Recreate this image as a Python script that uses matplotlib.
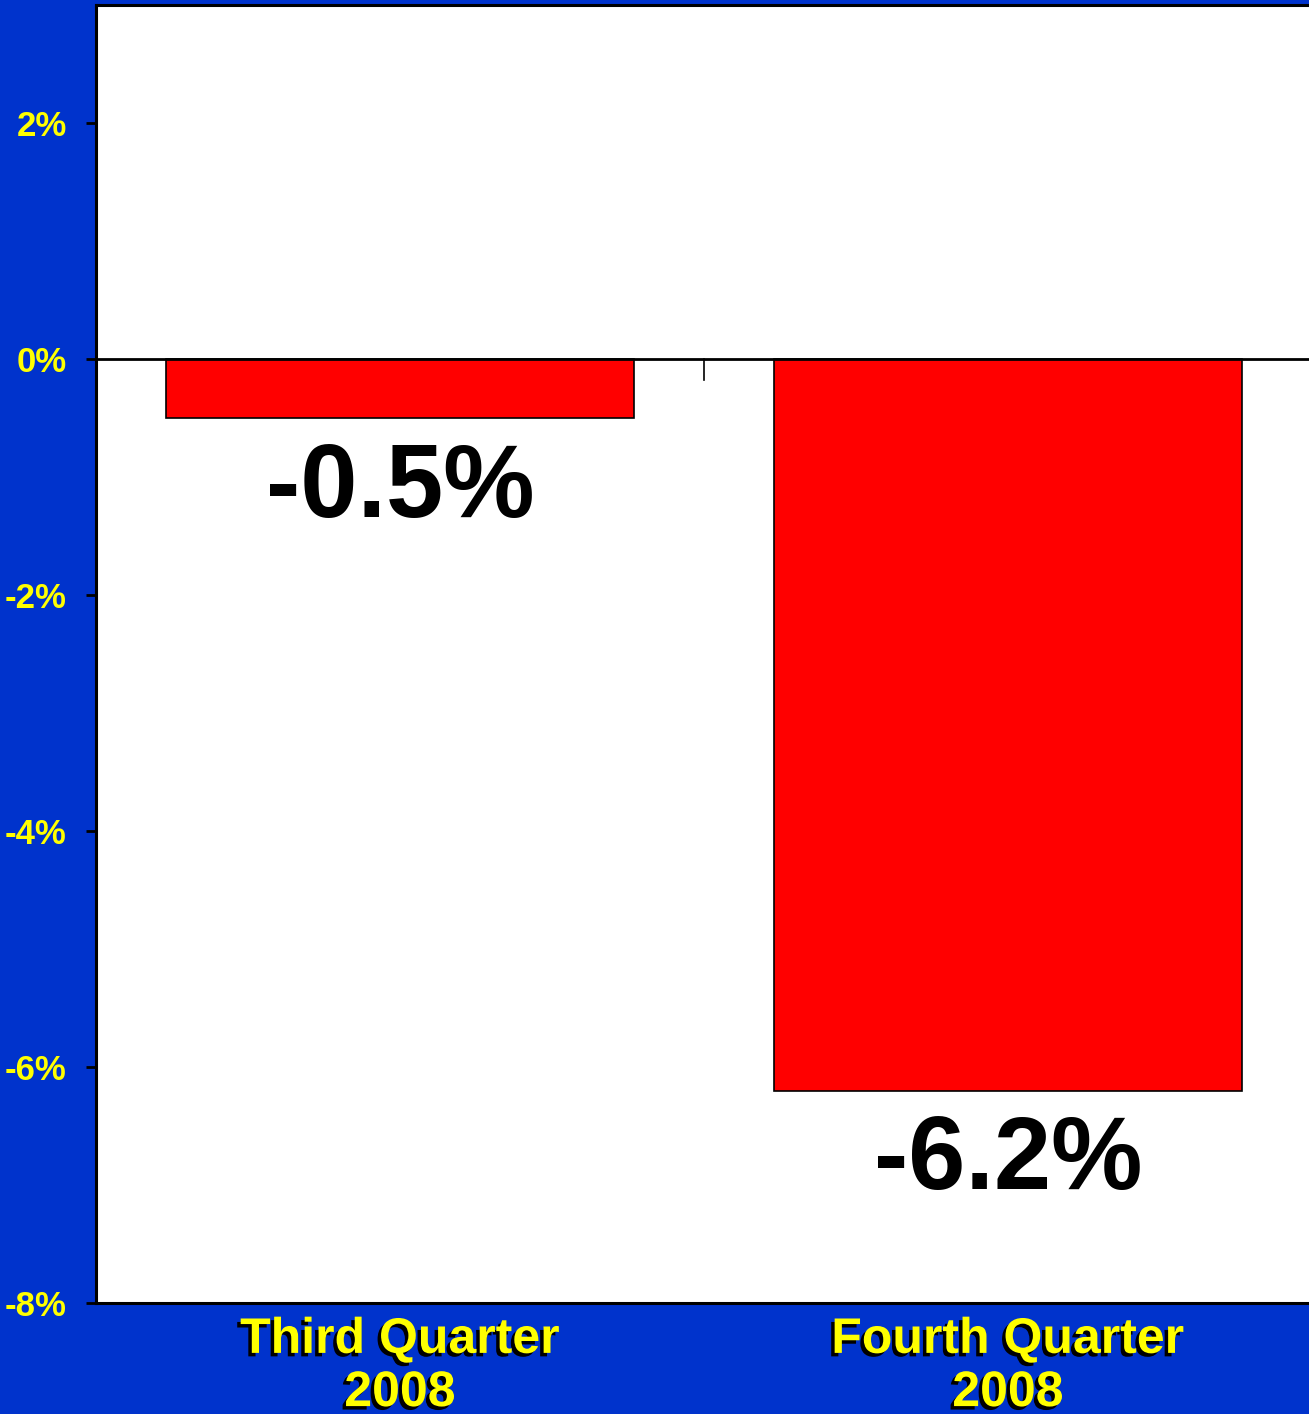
import matplotlib
matplotlib.use("Agg")
import matplotlib.pyplot as plt
import matplotlib.patheffects as pe
from matplotlib.ticker import FuncFormatter

# data
quarters = ["Third Quarter\n2008", "Fourth Quarter\n2008"]
growth = [-0.5, -6.2]
value_labels = ["-0.5%", "-6.2%"]
yticks = [-8, -6, -4, -2, 0, 2]

BLUE = "#0033cc"
YELLOW = "#ffff00"
BOLD = ["Liberation Sans", "DejaVu Sans"]

fig = plt.figure(figsize=(13.09, 14.14), dpi=100, facecolor=BLUE)
ax = fig.add_axes([96 / 1309, 111 / 1414, 1216 / 1309, (1409 - 111) / 1414])
ax.set_facecolor("white")

x = list(range(len(quarters)))
ax.bar(x, growth, width=0.77, color="#ff0000", edgecolor="black", linewidth=1.2, zorder=2)
ax.axhline(0, color="black", linewidth=2, zorder=3)

# small divider tick between the categories, hanging from the zero line
ylo, yhi = -8, 3
ax.set_ylim(ylo, yhi)
ax.set_xlim(-0.5, 1.5)
z = (0 - ylo) / (yhi - ylo)
ax.axvline(0.5, ymin=z - 0.016, ymax=z, color="black", linewidth=1.2, zorder=3)

for xi, v, lab in zip(x, growth, value_labels):
    ax.annotate(lab, (xi, v), xytext=(0, -17), textcoords="offset points",
                ha="center", va="top", fontsize=74, fontweight="bold",
                family=BOLD, color="black")

ax.set_yticks(yticks)
ax.yaxis.set_major_formatter(FuncFormatter(lambda v, p: f"{v:.0f}%"))
for t in ax.get_yticklabels():
    t.set_family(BOLD)
    t.set_fontsize(25)
    t.set_fontweight("bold")
    t.set_color(YELLOW)
ax.tick_params(axis="y", length=7, width=2, color="black", pad=14)

ax.set_xticks(x)
ax.set_xticklabels(quarters, fontsize=36, fontweight="bold", family=BOLD,
                   color=YELLOW, linespacing=1.2)
for t in ax.get_xticklabels():
    t.set_path_effects([pe.withSimplePatchShadow(offset=(-2.5, -2.5),
                                                 shadow_rgbFace="black", alpha=1.0)])
ax.tick_params(axis="x", length=0, pad=10)

for side in ["left", "bottom", "top"]:
    ax.spines[side].set_color("black")
    ax.spines[side].set_linewidth(2.2)
ax.spines["right"].set_visible(False)

fig.savefig("out.png", dpi=100, facecolor=BLUE)
